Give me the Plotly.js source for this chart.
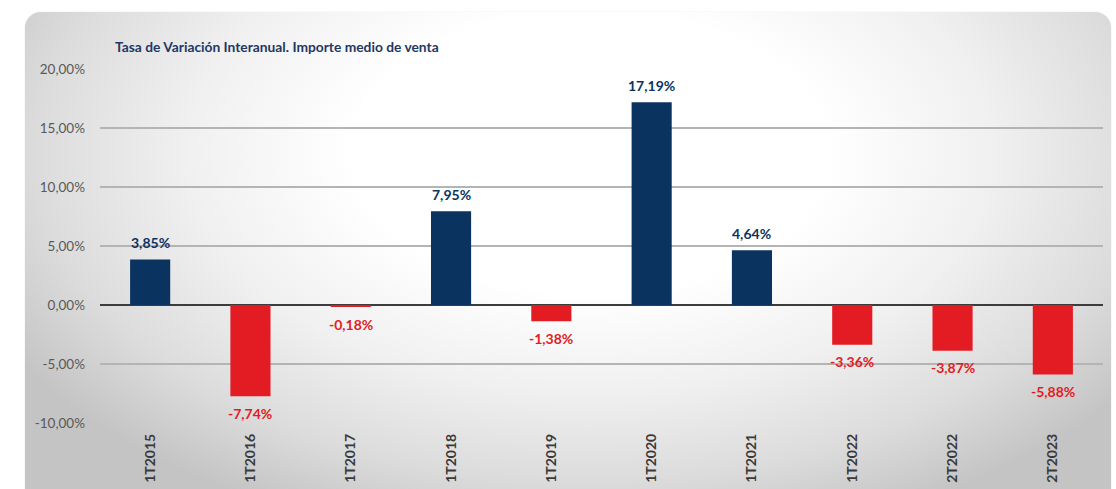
<!DOCTYPE html>
<html>
<head>
<meta charset="utf-8">
<script src="https://cdn.plot.ly/plotly-3.0.1.min.js"></script>
<style>
  html, body { margin: 0; padding: 0; background: #ffffff; }
  #wrap { position: relative; width: 1116px; height: 489px; overflow: hidden; }
  #bg { position: absolute; left: 25px; top: 12px; width: 1086px; height: 500px;
        border-radius: 16px;
        background: radial-gradient(ellipse 62% 80% at 52% 28%, #ffffff 0%, #ffffff 35%, #f0f0f0 60%, #dcdcdc 82%, #c4c4c4 100%);
        box-shadow: 0 0 1px #bdbdbd; }
  #chart { position: absolute; left: 0; top: 0; width: 1116px; height: 489px; }
</style>
</head>
<body>
<div id="wrap">
  <div id="bg"></div>
  <div id="chart"></div>
</div>
<script>
const categories = ["1T2015", "1T2016", "1T2017", "1T2018", "1T2019", "1T2020", "1T2021", "1T2022", "2T2022", "2T2023"];
const variation = [3.85, -7.74, -0.18, 7.95, -1.38, 17.19, 4.64, -3.36, -3.87, -5.88];
const yTicks = [-10, -5, 0, 5, 10, 15, 20];

const NAVY = "#0b3360";
const RED = "#e31b23";
const FONT = "Lato, 'Open Sans', sans-serif";
const barColors = variation.map(v => v >= 0 ? NAVY : RED);
const fmt = v => v.toFixed(2).replace(".", ",") + "%";
const yTickText = yTicks.map(fmt);

const trace = {
  type: "bar",
  x: categories,
  y: variation,
  marker: { color: barColors, line: { width: 0 } },
  hoverinfo: "skip"
};

const labelAnnotations = categories.map((c, i) => ({
  x: c,
  y: variation[i],
  xref: "x",
  yref: "y",
  text: "<b>" + fmt(variation[i]) + "</b>",
  showarrow: false,
  yanchor: "middle",
  yshift: variation[i] >= 0 ? 17 : -17,
  font: { family: FONT, size: 14, color: barColors[i] }
}));

const layout = {
  width: 1116,
  height: 489,
  paper_bgcolor: "rgba(0,0,0,0)",
  plot_bgcolor: "rgba(0,0,0,0)",
  margin: { l: 100, r: 13, t: 69, b: 66, pad: 0 },
  bargap: 0.6,
  showlegend: false,
  font: { family: FONT, color: "#595959" },
  title: {
    text: "<b>Tasa de Variación Interanual. Importe medio de venta</b>",
    font: { family: FONT, size: 13.8, color: "#1f3864" },
    xref: "container", yref: "container",
    x: 115 / 1116, xanchor: "left",
    y: 1 - 47 / 489, yanchor: "middle"
  },
  annotations: labelAnnotations,
  xaxis: {
    type: "category",
    tickangle: -90,
    tickfont: { family: FONT, size: 14, color: "#3a3a3a", weight: "bold" },
    showgrid: false,
    showline: false,
    zeroline: false,
    ticks: "",
    ticklabelstandoff: 7
  },
  yaxis: {
    range: [-10, 20],
    tickmode: "array",
    tickvals: yTicks,
    ticktext: yTickText,
    tickfont: { family: FONT, size: 13.5, color: "#595959" },
    showgrid: true,
    gridcolor: "#b4b4b4",
    gridwidth: 1.3,
    zeroline: true,
    zerolinecolor: "#3c3c3c",
    zerolinewidth: 2,
    showline: false,
    ticks: "",
    ticklabelstandoff: 14,
    fixedrange: true
  }
};

Plotly.newPlot("chart", [trace], layout, { staticPlot: true, displayModeBar: false });
</script>
</body>
</html>
